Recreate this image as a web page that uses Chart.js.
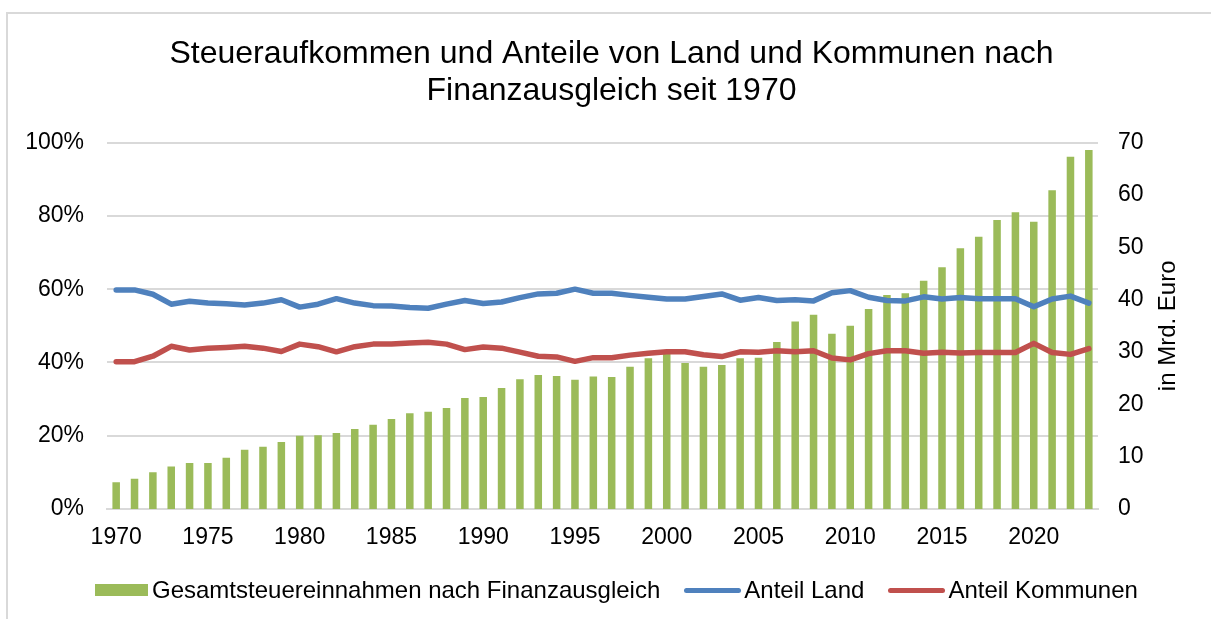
<!DOCTYPE html>
<html>
<head>
<meta charset="utf-8">
<script src="https://cdn.jsdelivr.net/npm/chart.js@4"></script>
<style>
  html, body { margin: 0; padding: 0; background: #fff; }
  body { font-family: "Liberation Sans", Arial, sans-serif; }
  .wrap { position: relative; width: 1211px; height: 619px; overflow: hidden; }
  .frame { position: absolute; left: 6px; top: 12px; width: 1300px; height: 700px;
           border-left: 2px solid #d9d9d9; border-top: 2px solid #d9d9d9; }
  canvas { position: absolute; left: 0; top: 0; }
  .legend { position: absolute; left: 95px; top: 576px; height: 28px; display: flex; align-items: center;
            font-size: 24px; color: #000; white-space: nowrap; }
  .legend .box { width: 53px; height: 12px; background: #9bbb59; margin-right: 4px; }
  .legend .ln { width: 57px; height: 5px; border-radius: 3px; margin-right: 3px; }
  .legend .gap { width: 24px; }
</style>
</head>
<body>
<div class="wrap">
  <div class="frame"></div>
  <canvas id="chart" width="1211" height="619"></canvas>
  <div class="legend">
    <span class="box"></span><span>Gesamtsteuereinnahmen nach Finanzausgleich</span>
    <span class="gap"></span>
    <span class="ln" style="background:#4f81bd"></span><span>Anteil Land</span>
    <span class="gap"></span>
    <span class="ln" style="background:#c0504d"></span><span>Anteil Kommunen</span>
  </div>
</div>
<script>
// data
const years = []
for (let y = 1970; y <= 2023; y++) years.push(y)

// Gesamtsteuereinnahmen (Mrd. Euro)
const steuern = [
  5.1, 5.8, 7.0, 8.1, 8.8, 8.8, 9.8, 11.3, 11.9, 12.8,
  14.0, 14.1, 14.5, 15.3, 16.1, 17.2, 18.3, 18.6, 19.3, 21.2,
  21.4, 23.1, 24.8, 25.6, 25.4, 24.7, 25.3, 25.2, 27.2, 28.8,
  29.6, 27.9, 27.2, 27.5, 28.8, 28.9, 31.9, 35.8, 37.1, 33.5,
  35.0, 38.2, 40.9, 41.2, 43.6, 46.2, 49.8, 52.0, 55.2, 56.7,
  54.9, 60.9, 67.3, 68.6
]

// Anteil Land (%)
const anteilLand = [
  59.8, 59.8, 58.6, 55.9, 56.7, 56.2, 56.0, 55.7, 56.2, 57.1,
  55.1, 55.9, 57.4, 56.2, 55.5, 55.4, 55.0, 54.8, 55.9, 56.9,
  56.1, 56.5, 57.7, 58.7, 58.9, 60.0, 58.9, 58.9, 58.3, 57.8,
  57.3, 57.3, 58.0, 58.7, 57.0, 57.7, 56.9, 57.1, 56.8, 59.0,
  59.6, 57.8, 56.9, 56.8, 57.9, 57.3, 57.7, 57.4, 57.4, 57.4,
  55.2, 57.3, 58.1, 56.2
]

// Anteil Kommunen (%)
const anteilKommunen = [
  40.2, 40.2, 41.7, 44.4, 43.4, 43.9, 44.1, 44.4, 43.9, 43.0,
  45.0, 44.3, 42.9, 44.3, 45.0, 45.0, 45.3, 45.5, 45.0, 43.5,
  44.2, 43.9, 42.8, 41.7, 41.5, 40.3, 41.3, 41.3, 42.0, 42.5,
  42.9, 42.9, 42.1, 41.6, 42.9, 42.8, 43.2, 42.9, 43.2, 41.2,
  40.7, 42.4, 43.2, 43.2, 42.5, 42.8, 42.6, 42.7, 42.7, 42.7,
  45.2, 42.7, 42.2, 43.8
]

const leftTicks = [0, 20, 40, 60, 80, 100]
const rightTicks = [0, 10, 20, 30, 40, 50, 60, 70]

const FONT = '"Liberation Sans", Arial, sans-serif'

// right axis title, reading bottom to top like the original
const rightTitle = {
  id: 'rightTitle',
  afterDraw(chart) {
    const ctx = chart.ctx
    const area = chart.chartArea
    ctx.save()
    ctx.translate(1168, (area.top + area.bottom) / 2)
    ctx.rotate(-Math.PI / 2)
    ctx.font = '24px ' + FONT
    ctx.fillStyle = '#000'
    ctx.textAlign = 'center'
    ctx.textBaseline = 'middle'
    ctx.fillText('in Mrd. Euro', 0, 0)
    ctx.restore()
  }
}

new Chart(document.getElementById('chart'), {
  data: {
    labels: years,
    datasets: [
      {
        type: 'line',
        label: 'Anteil Land',
        data: anteilLand,
        yAxisID: 'y',
        borderColor: '#4f81bd',
        borderWidth: 5.5,
        pointRadius: 0,
        tension: 0,
        borderCapStyle: 'round',
        borderJoinStyle: 'round',
        order: 2
      },
      {
        type: 'line',
        label: 'Anteil Kommunen',
        data: anteilKommunen,
        yAxisID: 'y',
        borderColor: '#c0504d',
        borderWidth: 5.5,
        pointRadius: 0,
        tension: 0,
        borderCapStyle: 'round',
        borderJoinStyle: 'round',
        order: 1
      },
      {
        type: 'bar',
        label: 'Gesamtsteuereinnahmen nach Finanzausgleich',
        data: steuern,
        yAxisID: 'y1',
        backgroundColor: '#9bbb59',
        barPercentage: 0.41,
        categoryPercentage: 1,
        order: 3
      }
    ]
  },
  options: {
    responsive: false,
    animation: false,
    layout: { padding: { top: 0, left: 12, right: 0, bottom: 63 } },
    plugins: {
      legend: { display: false },
      tooltip: { enabled: false },
      title: {
        display: true,
        text: ['Steueraufkommen und Anteile von Land und Kommunen nach', 'Finanzausgleich seit 1970'],
        color: '#000',
        font: { family: FONT, size: 32, weight: 'normal', lineHeight: 1.15 },
        padding: { top: 36, bottom: 33 }
      }
    },
    scales: {
      x: {
        offset: true,
        grid: { display: false, drawTicks: false },
        border: { display: true, color: '#d9d9d9', width: 2 },
        ticks: {
          autoSkip: false,
          maxRotation: 0,
          padding: 15,
          color: '#000',
          font: { family: FONT, size: 23 },
          callback: function (v, i) {
            return years[i] % 5 === 0 ? String(years[i]) : ''
          }
        },
        afterFit: function (s) { s.height = 47 }
      },
      y: {
        position: 'left',
        min: 0,
        max: 100,
        afterBuildTicks: function (s) { s.ticks = leftTicks.map(v => ({ value: v })) },
        grid: { color: '#d9d9d9', lineWidth: 2, drawTicks: false },
        border: { display: false },
        ticks: {
          padding: 23,
          color: '#000',
          font: { family: FONT, size: 23 },
          callback: v => v + '%'
        },
        afterFit: function (s) { s.width = 95 }
      },
      y1: {
        position: 'right',
        min: 0,
        max: 70,
        afterBuildTicks: function (s) { s.ticks = rightTicks.map(v => ({ value: v })) },
        grid: { display: false, drawTicks: false },
        border: { display: false },
        ticks: {
          padding: 20,
          color: '#000',
          font: { family: FONT, size: 23 }
        },
        afterFit: function (s) { s.width = 113 }
      }
    }
  },
  plugins: [rightTitle]
})
</script>
</body>
</html>
